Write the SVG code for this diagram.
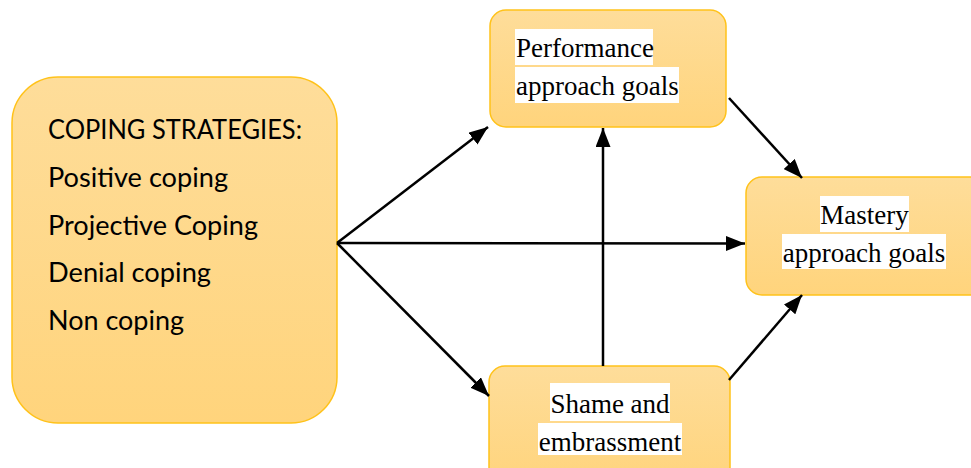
<svg xmlns="http://www.w3.org/2000/svg" width="971" height="468" viewBox="0 0 971 468">
  <defs>
    <linearGradient id="g" x1="0" y1="0" x2="0" y2="1">
      <stop offset="0" stop-color="#FEDD9A"/>
      <stop offset="1" stop-color="#FFD47C"/>
    </linearGradient>
    <marker id="ah" markerWidth="10" markerHeight="8" refX="10" refY="4" orient="auto" markerUnits="userSpaceOnUse" viewBox="0 0 10 8">
      <path d="M0,0 L10,4 L0,8 Z" fill="#000"/>
    </marker>
    <style>
      .box { fill: url(#g); stroke: #FFC21A; stroke-width: 1.5; }
      .ser { font-family: "Liberation Serif", "Times New Roman", serif; font-size: 27px; fill: #000; }
      .san { font-family: Lato, "Open Sans", sans-serif; font-size: 27px; fill: #000; }
      .hl { fill: #fff; }
      .c { stroke: #000; stroke-width: 2.5; fill: none; }
    </style>
    <marker id="a" markerWidth="19" markerHeight="15" refX="19" refY="7.5" orient="auto" markerUnits="userSpaceOnUse">
      <path d="M0,0 L19,7.5 L0,15 Z" fill="#000"/>
    </marker>
  </defs>
  <rect width="971" height="468" fill="#fff"/>

  <g id="coping">
    <rect class="box" x="12" y="77" width="325" height="346" rx="46" ry="46"/>
    <text class="san" x="48" y="139" textLength="254" lengthAdjust="spacingAndGlyphs">COPING STRATEGIES:</text>
    <text class="san" x="48" y="187" textLength="180" lengthAdjust="spacingAndGlyphs">Positive coping</text>
    <text class="san" x="48" y="235" textLength="210" lengthAdjust="spacingAndGlyphs">Projective Coping</text>
    <text class="san" x="48" y="282" textLength="163" lengthAdjust="spacingAndGlyphs">Denial coping</text>
    <text class="san" x="48" y="330" textLength="136" lengthAdjust="spacingAndGlyphs">Non coping</text>
  </g>

  <g id="performance">
    <rect class="box" x="490" y="10" width="236" height="117" rx="16" ry="16"/>
    <rect class="hl" x="515" y="29" width="138" height="36"/>
    <rect class="hl" x="515" y="67" width="164" height="36"/>
    <text class="ser" x="516" y="57">Performance</text>
    <text class="ser" x="516" y="95">approach goals</text>
  </g>

  <g id="mastery">
    <rect class="box" x="746" y="177" width="240" height="118" rx="16" ry="16"/>
    <rect class="hl" x="820" y="196" width="89" height="36"/>
    <rect class="hl" x="782" y="234" width="164" height="35"/>
    <text class="ser" x="864.5" y="224" text-anchor="middle">Mastery</text>
    <text class="ser" x="864" y="262" text-anchor="middle">approach goals</text>
  </g>

  <g id="shame">
    <rect class="box" x="489" y="366" width="241" height="120" rx="16" ry="16"/>
    <rect class="hl" x="550" y="383" width="120" height="38"/>
    <rect class="hl" x="538" y="423" width="144" height="32"/>
    <text class="ser" x="610" y="413" text-anchor="middle">Shame and</text>
    <text class="ser" x="610" y="451" text-anchor="middle">embrassment</text>
  </g>

  <g id="connectors">
    <line class="c" x1="337" y1="243" x2="488" y2="127" marker-end="url(#a)"/>
    <line class="c" x1="337" y1="243" x2="745" y2="243.5" marker-end="url(#a)"/>
    <line class="c" x1="337" y1="243" x2="489" y2="396" marker-end="url(#a)"/>
    <line class="c" x1="603" y1="366" x2="603" y2="128" marker-end="url(#a)"/>
    <line class="c" x1="729" y1="98" x2="802" y2="178" marker-end="url(#a)"/>
    <line class="c" x1="729" y1="380" x2="802" y2="295" marker-end="url(#a)"/>
  </g>
</svg>
